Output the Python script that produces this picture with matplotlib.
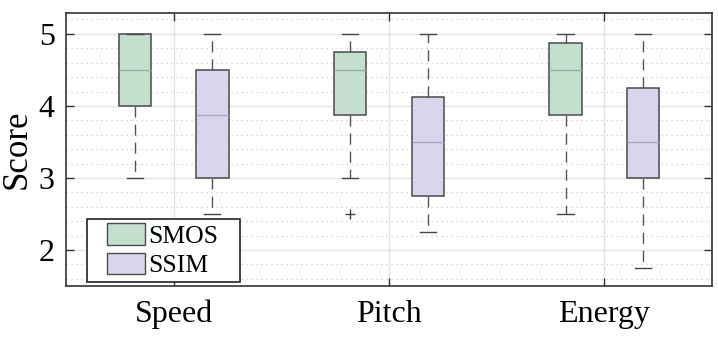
import matplotlib
matplotlib.use("Agg")
import matplotlib.pyplot as plt
from matplotlib.patches import Patch, Rectangle
from matplotlib.legend_handler import HandlerPatch
from matplotlib.ticker import MultipleLocator

categories = ["Speed", "Pitch", "Energy"]
series = ["SMOS", "SSIM"]

# per-category stats: SMOS
smos_q1 = [4.0, 3.875, 3.875]
smos_med = [4.5, 4.5, 4.5]
smos_q3 = [5.0, 4.75, 4.875]
smos_lo = [3.0, 3.0, 2.5]
smos_hi = [5.0, 5.0, 5.0]
smos_fliers = [[], [2.5], []]

# SSIM
ssim_q1 = [3.0, 2.75, 3.0]
ssim_med = [3.875, 3.5, 3.5]
ssim_q3 = [4.5, 4.125, 4.25]
ssim_lo = [2.5, 2.25, 1.75]
ssim_hi = [5.0, 5.0, 5.0]
ssim_fliers = [[], [], []]

yticks = [2, 3, 4, 5]

colors = {"SMOS": "#c5dfcf", "SSIM": "#d8d6ec"}
med_colors = {"SMOS": "#97b3a3", "SSIM": "#a9a6c4"}

plt.rcParams["font.family"] = ["Liberation Serif", "DejaVu Serif"]

fig = plt.figure(figsize=(7.18, 3.39), dpi=100)
ax = fig.add_axes([0.0919, 0.1563, 0.9916 - 0.0919, 0.9617 - 0.1563])

offset = 0.18
width = 0.15

def make_stats(q1, med, q3, lo, hi, fl):
    return [dict(q1=a, med=b, q3=c, whislo=d, whishi=e, fliers=f)
            for a, b, c, d, e, f in zip(q1, med, q3, lo, hi, fl)]

for name, stats, sign in [
    ("SMOS", make_stats(smos_q1, smos_med, smos_q3, smos_lo, smos_hi, smos_fliers), -1),
    ("SSIM", make_stats(ssim_q1, ssim_med, ssim_q3, ssim_lo, ssim_hi, ssim_fliers), 1),
]:
    pos = [i + 1 + sign * offset for i in range(len(categories))]
    ax.bxp(stats, positions=pos, widths=width, patch_artist=True, manage_ticks=False,
           boxprops=dict(facecolor=colors[name], edgecolor="#4a4a4a", linewidth=1.1),
           medianprops=dict(color=med_colors[name], linewidth=1.0),
           whiskerprops=dict(color="#555555", linewidth=1.0, linestyle=(0, (8, 5))),
           capprops=dict(color="#444444", linewidth=1.0),
           flierprops=dict(marker="+", markeredgecolor="#444444", markersize=7, linestyle="none"),
           zorder=3)

ax.set_xlim(0.5, 3.5)
ax.set_ylim(1.5, 5.29)
ax.set_xticks(range(1, len(categories) + 1))
ax.set_xticklabels(categories)
ax.set_yticks(yticks)
ax.yaxis.set_minor_locator(MultipleLocator(0.2))

ax.grid(True, which="major", color="#e3e3e3", linewidth=1.0, linestyle="-", zorder=0)
ax.grid(True, which="minor", axis="y", color="#cccccc", linewidth=0.9, linestyle=(0, (1, 3)), zorder=0)
ax.set_axisbelow(True)

ax.tick_params(axis="both", which="major", direction="in", length=6, width=1.0,
               labelsize=23, top=True, right=True, color="#333333", pad=8)
ax.tick_params(axis="y", which="minor", left=False, right=False)
ax.tick_params(axis="x", pad=10)
for s in ax.spines.values():
    s.set_color("#333333")
    s.set_linewidth(1.2)

ax.set_ylabel("Score", fontsize=25, labelpad=4)


def right_rect(legend, orig_handle, xdescent, ydescent, width, height, fontsize):
    w = 38 * 72 / fig.dpi
    return Rectangle((-xdescent + width - w, -ydescent), w, height)


handles = [Patch(facecolor=colors[s], edgecolor="#4a4a4a", linewidth=1.0) for s in series]
leg = ax.legend(handles, series, loc="lower left",
                bbox_to_anchor=(0.0325, 0.0147, 0.237, 0.2), mode="expand",
                fontsize=18.5, frameon=True, fancybox=False, framealpha=1,
                edgecolor="#222222", handlelength=2.06, handleheight=0.9,
                handletextpad=0.16, borderpad=0.18, labelspacing=0.2, borderaxespad=0.0,
                handler_map={Patch: HandlerPatch(patch_func=right_rect)})
leg.get_frame().set_linewidth(1.2)

fig.savefig("out.png", dpi=100)
